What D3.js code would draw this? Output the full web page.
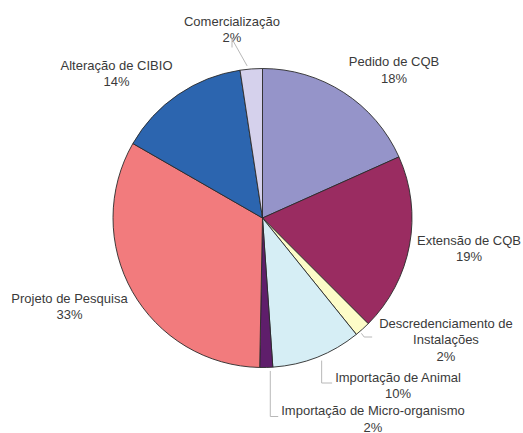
<!DOCTYPE html>
<html>
<head>
<meta charset="utf-8">
<script src="https://cdn.jsdelivr.net/npm/d3@7"></script>
<style>
  html, body { margin: 0; padding: 0; background: #ffffff; }
  svg { display: block; }
</style>
</head>
<body>
<svg id="chart" width="523" height="433"></svg>
<script>
// ---- data ----
const categories = [
  "Pedido de CQB",
  "Extensão de CQB",
  "Descredenciamento de Instalações",
  "Importação de Animal",
  "Importação de Micro-organismo",
  "Projeto de Pesquisa",
  "Alteração de CIBIO",
  "Comercialização"
];
const values = [18.3, 19.2, 1.7, 9.7, 1.4, 33.0, 14.3, 2.4];
const pctLabels = ["18%", "19%", "2%", "10%", "2%", "33%", "14%", "2%"];
const labelLines = [
  ["Pedido de CQB"],
  ["Extensão de CQB"],
  ["Descredenciamento de", "Instalações"],
  ["Importação de Animal"],
  ["Importação de Micro-organismo"],
  ["Projeto de Pesquisa"],
  ["Alteração de CIBIO"],
  ["Comercialização"]
];
const colors = ["#9594c9", "#9a2c61", "#fdfcc8", "#d6eef5", "#5f1e6b", "#f27b7d", "#2c65af", "#d5d1ec"];

// ---- layout (annotation placement, relative to pie centre) ----
const cx = 262.5, cy = 218, radius = 149.5;
const labelOffsets = [
  [131.5, -152], [206.5, 26.5], [183.5, 109.5], [135.5, 163.5],
  [110.5, 197], [-193, 84.5], [-146, -148.5], [-30.5, -192.5]
];
const leaderStyle = [null, null, "side", "down", "down", null, null, "up"];
const lineHeight = 16.5;

const svg = d3.select("#chart");
const g = svg.append("g").attr("transform", `translate(${cx},${cy})`);

const data = categories.map((c, i) => ({ name: c, value: values[i], i }));
const pie = d3.pie().value(d => d.value).sort(null).startAngle(0).endAngle(2 * Math.PI);
const arcs = pie(data);
const arc = d3.arc().innerRadius(0).outerRadius(radius);

g.selectAll("path.slice")
  .data(arcs)
  .enter().append("path")
  .attr("class", "slice")
  .attr("d", arc)
  .attr("fill", d => colors[d.data.i])
  .attr("stroke", "#2a2a2a")
  .attr("stroke-width", 0.9)
  .attr("stroke-linejoin", "round");

// labels
const labelG = g.append("g")
  .attr("font-family", "'Liberation Sans', Arial, sans-serif")
  .attr("font-size", 13)
  .attr("fill", "#3a3a3a")
  .attr("text-anchor", "middle");

arcs.forEach((a, k) => {
  const i = a.data.i;
  const [lx, ly] = labelOffsets[i];
  const lines = labelLines[i].concat([pctLabels[i]]);
  const t = labelG.append("text").attr("x", lx).attr("y", ly);
  lines.forEach((ln, j) => {
    t.append("tspan").attr("x", lx).attr("y", ly + j * lineHeight).text(ln);
  });
  const style = leaderStyle[i];
  if (!style) return;
  const firstW = t.select("tspan").node().getComputedTextLength();
  const textLeft = lx - firstW / 2;
  const mid = (a.startAngle + a.endAngle) / 2;
  const sx = Math.sin(mid) * (radius + 1.5), sy = -Math.cos(mid) * (radius + 1.5);
  let pts;
  if (style === "up") {
    pts = [[sx - 4, sy - 1.5], [lx, ly + 13.5 + (lines.length - 1) * lineHeight - lineHeight], [lx, ly + 5.5 + (lines.length - 1) * lineHeight]];
  } else if (style === "side") {
    const ex = textLeft - 7, ey = ly + 9.5;
    pts = [[sx - 2, sy + 3], [ex - 8, ey], [ex, ey]];
  } else {
    const ey = ly + 1.5;
    pts = [[sx + 4, sy + 2], [sx + 4, ey], [textLeft - 3, ey]];
  }
  g.append("path")
    .attr("d", d3.line()(pts))
    .attr("fill", "none")
    .attr("stroke", "#b8b8b8")
    .attr("stroke-width", 1);
});
</script>
</body>
</html>
